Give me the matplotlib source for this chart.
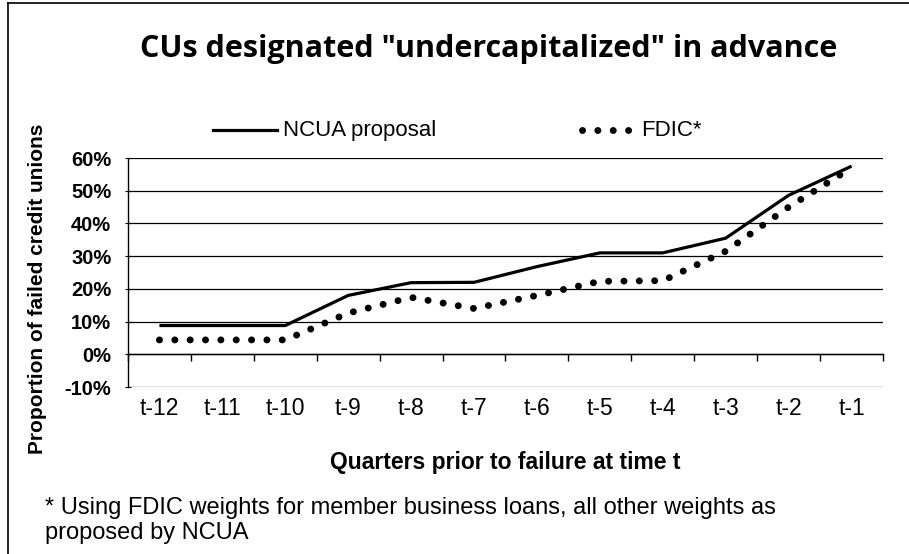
import numpy as np
import matplotlib
matplotlib.use('AGG')
import matplotlib.pyplot as plt
from matplotlib.lines import Line2D

quarters = ['t-12', 't-11', 't-10', 't-9', 't-8', 't-7', 't-6', 't-5', 't-4', 't-3', 't-2', 't-1']
ncua = [8.8, 8.8, 8.8, 18.0, 21.9, 22.0, 26.8, 31.0, 31.0, 35.5, 48.6, 57.5]
fdic = [4.4, 4.4, 4.4, 12.6, 17.4, 14.0, 18.0, 22.3, 22.5, 31.5, 45.0, 57.0]
yticks = [-10, 0, 10, 20, 30, 40, 50, 60]

plt.rcParams['font.family'] = ['Liberation Sans', 'DejaVu Sans']

fig = plt.figure(figsize=(9.09, 5.54), dpi=100)
ax = fig.add_axes([0.1408, 0.3014, 0.8306, 0.4134])

dots = (0, (0.01, 2.2))
x = np.arange(len(quarters))
ax.plot(x, ncua, color='black', lw=2.3, solid_capstyle='butt')
ax.plot(x, fdic, color='black', lw=5, linestyle=dots, dash_capstyle='round')

ax.set_xlim(-0.5, len(quarters) - 0.5)
ax.set_ylim(-10, 60)
ax.set_yticks(yticks)
ax.set_yticklabels(['%d%%' % v for v in yticks], fontsize=14.5, fontweight='bold')
ax.tick_params(axis='y', length=4, direction='inout', width=0.8, pad=10)
ax.grid(axis='y', color='black', lw=0.9)

ax.set_xticks(x)
ax.set_xticklabels(quarters, fontsize=16.5)
ax.tick_params(axis='x', length=0, pad=7)

for s in ['top', 'right', 'bottom']:
    ax.spines[s].set_visible(False)
ax.spines['left'].set_linewidth(1.0)

# category axis crossing at zero
sec = ax.secondary_xaxis(10 / 70)
sec.set_xticks(np.arange(-0.5, len(quarters), 1.0))
sec.set_xticklabels([])
sec.tick_params(length=5, direction='out', width=1.0)
sec.spines['bottom'].set_linewidth(1.0)

fig.text(0.556, 0.166, 'Quarters prior to failure at time t', ha='center', va='center',
         fontsize=16.5, fontweight='bold')
fig.text(0.041, 0.478, 'Proportion of failed credit unions', rotation=90, ha='center', va='center',
         fontsize=15, fontweight='bold')

fig.text(0.538, 0.897, 'CUs designated "undercapitalized" in advance', ha='center', va='baseline',
         fontsize=22, fontweight='bold', family=['Open Sans', 'DejaVu Sans'])

# legend
ly = 0.765
fig.add_artist(Line2D([0.234, 0.305], [ly, ly], color='black', lw=2.3, transform=fig.transFigure))
fig.text(0.311, ly, 'NCUA proposal', va='center', fontsize=16)
fig.add_artist(Line2D([0.640, 0.693], [ly, ly], color='black', lw=5, linestyle=dots,
                      dash_capstyle='round', transform=fig.transFigure))
fig.text(0.705, ly, 'FDIC*', va='center', fontsize=16)

fig.text(0.05, 0.083, '* Using FDIC weights for member business loans, all other weights as', va='center', fontsize=17)
fig.text(0.05, 0.038, 'proposed by NCUA', va='center', fontsize=17)

# frame
fig.add_artist(Line2D([0.009, 0.009], [0.0, 0.995], color='black', lw=1.2, transform=fig.transFigure))
fig.add_artist(Line2D([0.009, 1.0], [0.995, 0.995], color='black', lw=1.2, transform=fig.transFigure))

fig.savefig('out.png', dpi=100)
